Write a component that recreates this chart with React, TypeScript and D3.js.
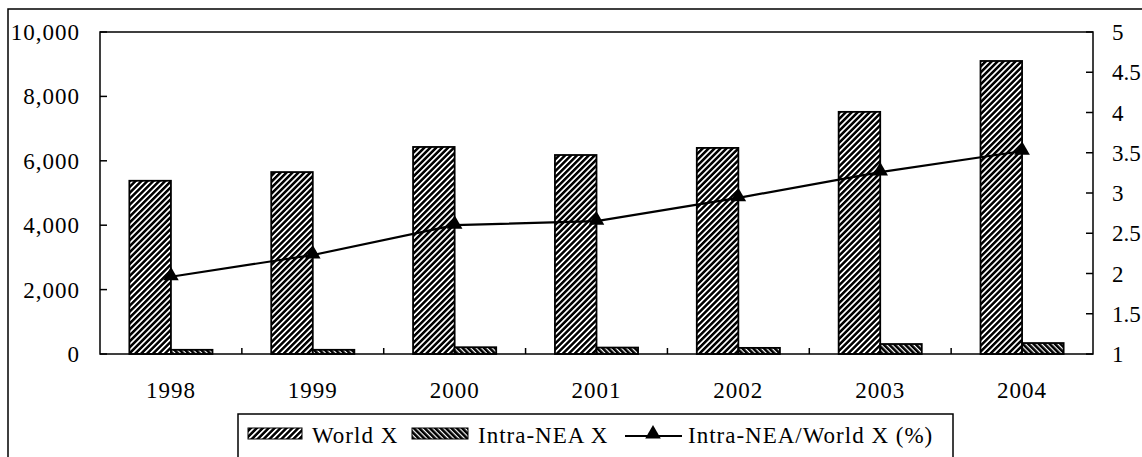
import React from "react";
import * as d3 from "d3";

// Exports by year
const years = ["1998", "1999", "2000", "2001", "2002", "2003", "2004"];
const worldX = [5380, 5650, 6430, 6180, 6400, 7520, 9100];
const intraNeaX = [130, 130, 210, 200, 190, 310, 340];
const intraShare = [1.96, 2.23, 2.6, 2.65, 2.94, 3.26, 3.52];

const leftTicks = [0, 2000, 4000, 6000, 8000, 10000];
const rightTicks = [1, 1.5, 2, 2.5, 3, 3.5, 4, 4.5, 5];

const W = 1142;
const H = 457;
const plot = { left: 100, right: 1093, top: 32, bottom: 354 };
const FONT = "'Liberation Serif', 'Times New Roman', Times, serif";

export default function App() {
  const x = d3.scaleBand<string>().domain(years).range([plot.left, plot.right]).padding(0);
  const yL = d3.scaleLinear().domain([0, 10000]).range([plot.bottom, plot.top]);
  const yR = d3.scaleLinear().domain([1, 5]).range([plot.bottom, plot.top]);
  const barW = x.bandwidth() * 0.293;
  const cx = (y: string) => (x(y) as number) + x.bandwidth() / 2;
  const fmt = d3.format(",");

  const line = d3
    .line<number>()
    .x((_, i) => cx(years[i]))
    .y((d) => yR(d));

  const tri = d3.symbol().type(d3.symbolTriangle).size(105)() as string;

  const textStyle: React.CSSProperties = {
    fontFamily: FONT,
    fontSize: 23,
    letterSpacing: 1,
    fill: "#000",
  };
  const rightStyle: React.CSSProperties = { ...textStyle, letterSpacing: 0 };

  const lgY = 428;
  const lgH = 11;

  return (
    <svg
      width={W}
      height={H}
      viewBox={`0 0 ${W} ${H}`}
      style={{ position: "absolute", left: 0, top: 0, background: "#fff" }}
    >
      <defs>
        <pattern id="hatchWorld" width="4.2" height="4.2" patternUnits="userSpaceOnUse" patternTransform="rotate(45)">
          <rect width="4.2" height="4.2" fill="#fff" />
          <rect x="0" y="0" width="2.5" height="4.2" fill="#000" />
        </pattern>
        <pattern id="hatchIntra" width="3.8" height="3.8" patternUnits="userSpaceOnUse" patternTransform="rotate(-45)">
          <rect width="3.8" height="3.8" fill="#fff" />
          <rect x="0" y="0" width="2.6" height="3.8" fill="#000" />
        </pattern>
      </defs>

      {/* outer frame */}
      <rect x={8} y={9} width={W + 20} height={H + 20} fill="none" stroke="#000" strokeWidth={1.5} />

      {/* bars */}
      {years.map((yr, i) => (
        <g key={yr}>
          <rect
            x={cx(yr) - barW}
            y={yL(worldX[i])}
            width={barW}
            height={plot.bottom - yL(worldX[i])}
            fill="url(#hatchWorld)"
            stroke="#000"
            strokeWidth={1.8}
          />
          <rect
            x={cx(yr)}
            y={yL(intraNeaX[i])}
            width={barW}
            height={plot.bottom - yL(intraNeaX[i])}
            fill="url(#hatchIntra)"
            stroke="#000"
            strokeWidth={1.8}
          />
        </g>
      ))}

      {/* plot frame */}
      <rect
        x={plot.left}
        y={plot.top}
        width={plot.right - plot.left}
        height={plot.bottom - plot.top}
        fill="none"
        stroke="#000"
        strokeWidth={1.5}
      />

      {/* left axis */}
      {leftTicks.map((t) => (
        <g key={"l" + t}>
          <line x1={plot.left} x2={plot.left + 7} y1={yL(t)} y2={yL(t)} stroke="#000" strokeWidth={1.5} />
          <text x={80} y={yL(t)} dy="0.35em" textAnchor="end" style={textStyle}>
            {fmt(t)}
          </text>
        </g>
      ))}

      {/* right axis */}
      {rightTicks.map((t) => (
        <g key={"r" + t}>
          <line x1={plot.right - 7} x2={plot.right} y1={yR(t)} y2={yR(t)} stroke="#000" strokeWidth={1.5} />
          <text x={1112} y={yR(t)} dy="0.35em" textAnchor="start" style={rightStyle}>
            {t}
          </text>
        </g>
      ))}

      {/* category ticks and labels */}
      {years.slice(1).map((yr) => (
        <line
          key={"t" + yr}
          x1={x(yr) as number}
          x2={x(yr) as number}
          y1={plot.bottom}
          y2={plot.bottom - 6}
          stroke="#000"
          strokeWidth={1.5}
        />
      ))}
      {years.map((yr) => (
        <text key={"x" + yr} x={cx(yr)} y={398} textAnchor="middle" style={textStyle}>
          {yr}
        </text>
      ))}

      {/* share line */}
      <path d={line(intraShare) as string} fill="none" stroke="#000" strokeWidth={2.2} />
      {intraShare.map((v, i) => (
        <path key={"m" + i} d={tri} transform={`translate(${cx(years[i])},${yR(v) - 1})`} fill="#000" />
      ))}

      {/* legend */}
      <rect x={238} y={414} width={715} height={80} fill="#fff" stroke="#000" strokeWidth={1.5} />
      <rect x={248} y={lgY} width={54} height={lgH} fill="url(#hatchWorld)" stroke="#000" strokeWidth={1} />
      <text x={312} y={443} style={textStyle}>
        World X
      </text>
      <rect x={412} y={lgY} width={56} height={lgH} fill="url(#hatchIntra)" stroke="#000" strokeWidth={1} />
      <text x={478} y={443} style={textStyle}>
        Intra-NEA X
      </text>
      <line x1={625} x2={682} y1={436} y2={436} stroke="#000" strokeWidth={2.2} />
      <path d={tri} transform="translate(653,434)" fill="#000" />
      <text x={688} y={443} style={textStyle}>
        Intra-NEA/World X (%)
      </text>
    </svg>
  );
}
